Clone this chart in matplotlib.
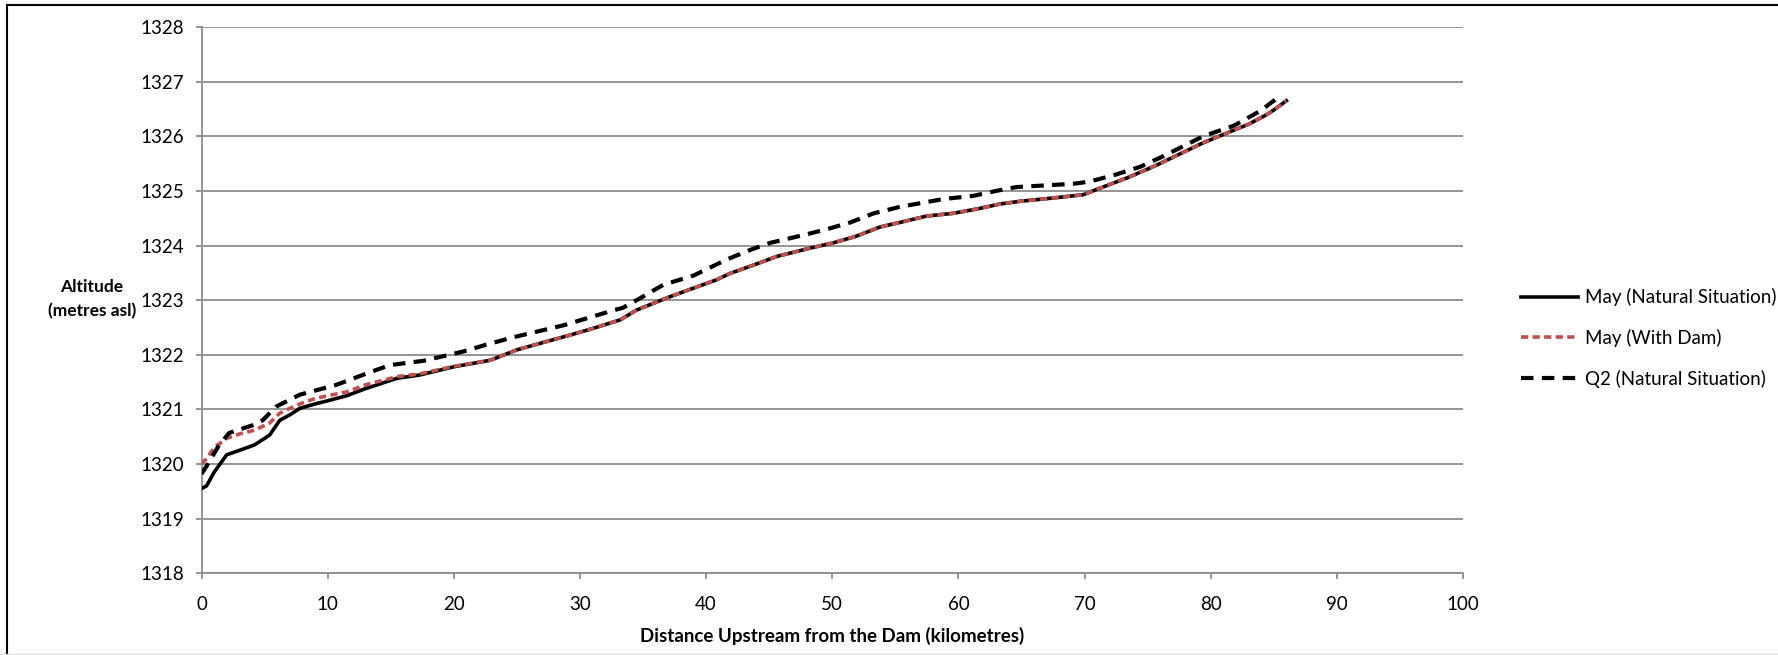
import matplotlib
matplotlib.use("Agg")
import matplotlib.pyplot as plt
from matplotlib.lines import Line2D

plt.rcParams['font.family'] = ['Lato', 'DejaVu Sans']

# Water surface profiles upstream of the dam
km_may = [0, 0.4, 1.0, 2.0, 3.0, 4.2, 5.4, 6.2, 7.0, 7.8, 9.0, 10.2, 11.5, 13.0,
          15.5, 17.3, 20.0, 22.9, 25.0, 27.0, 29.2, 31.0, 33.2, 34.5, 37.1, 39.0,
          40.8, 41.9, 43.5, 45.6, 48.2, 50.1, 51.9, 53.8, 55.5, 57.5, 59.6, 61.5,
          63.3, 64.9, 67.5, 69.9, 71.0, 73.5, 75.7, 77.5, 79.4, 81.5, 83.0, 84.4,
          85.0, 86.0]
alt_may_natural = [1319.55, 1319.60, 1319.85, 1320.17, 1320.25, 1320.35, 1320.53,
                   1320.80, 1320.90, 1321.02, 1321.10, 1321.17, 1321.25, 1321.38,
                   1321.57, 1321.63, 1321.78, 1321.90, 1322.09, 1322.22, 1322.36,
                   1322.48, 1322.64, 1322.82, 1323.06, 1323.22, 1323.37, 1323.49,
                   1323.62, 1323.80, 1323.95, 1324.05, 1324.17, 1324.34, 1324.43,
                   1324.54, 1324.59, 1324.67, 1324.76, 1324.81, 1324.87, 1324.93,
                   1325.03, 1325.25, 1325.47, 1325.67, 1325.88, 1326.08, 1326.22,
                   1326.39, 1326.48, 1326.65]
alt_may_dam = [1320.00, 1320.10, 1320.30, 1320.47, 1320.55, 1320.62, 1320.75,
               1320.93, 1321.02, 1321.10, 1321.20, 1321.26, 1321.32, 1321.45,
               1321.60, 1321.65, 1321.79, 1321.90, 1322.09, 1322.22, 1322.36,
               1322.48, 1322.64, 1322.82, 1323.06, 1323.22, 1323.37, 1323.49,
               1323.62, 1323.80, 1323.95, 1324.05, 1324.17, 1324.34, 1324.43,
               1324.54, 1324.59, 1324.67, 1324.76, 1324.81, 1324.87, 1324.93,
               1325.03, 1325.25, 1325.47, 1325.67, 1325.88, 1326.08, 1326.22,
               1326.39, 1326.48, 1326.65]

km_q2 = [0, 0.37, 1.4, 2.2, 4.05, 4.85, 5.9, 7.8, 10.7, 13.0, 14.9, 17.6, 20.75,
         22.5, 24.7, 28.7, 32.6, 33.4, 34.5, 36.6, 39.0, 41.6, 43.5, 45.1, 47.7,
         49.6, 51.4, 53.3, 55.4, 58.8, 61.2, 63.0, 64.6, 69.1, 70.4, 72.5, 74.4,
         76.2, 79.4, 81.8, 83.9, 85.4]
alt_q2 = [1319.82, 1319.95, 1320.35, 1320.57, 1320.71, 1320.80, 1321.05, 1321.27,
          1321.45, 1321.65, 1321.81, 1321.89, 1322.06, 1322.18, 1322.32, 1322.54,
          1322.81, 1322.86, 1323.00, 1323.28, 1323.45, 1323.74, 1323.92, 1324.05,
          1324.19, 1324.30, 1324.42, 1324.59, 1324.71, 1324.85, 1324.91, 1325.00,
          1325.07, 1325.13, 1325.17, 1325.30, 1325.44, 1325.63, 1326.00, 1326.19,
          1326.46, 1326.72]

labels = ["May (Natural Situation)", "May (With Dam)", "Q2 (Natural Situation)"]
x_ticks = list(range(0, 101, 10))
y_ticks = list(range(1318, 1329))

W, H = 1778, 655
fig = plt.figure(figsize=(W / 100, H / 100), dpi=100)
ax = fig.add_axes([201.5 / W, 1 - 573.3 / H, (1463 - 201.5) / W, (573.3 - 27) / H])

grid_c = '#8c8c8c'
ax.set_xlim(0, 100)
ax.set_ylim(1318, 1328)
ax.set_xticks(x_ticks)
ax.set_yticks(y_ticks)
ax.yaxis.grid(True, color=grid_c, linewidth=1.3)
ax.set_axisbelow(True)
for s in ('top', 'right'):
    ax.spines[s].set_visible(False)
for s in ('left', 'bottom'):
    ax.spines[s].set_color(grid_c)
    ax.spines[s].set_linewidth(1.3)
ax.tick_params(axis='both', colors=grid_c, labelcolor='black', labelsize=13.5,
               length=4.5, width=1.3)
ax.tick_params(axis='y', pad=8)
ax.tick_params(axis='x', pad=12)

l1, = ax.plot(km_may, alt_may_natural, color='black', linewidth=2.6,
              solid_joinstyle='round', zorder=3)
l2, = ax.plot(km_may, alt_may_dam, color='#C0504D', linewidth=2.6,
              dashes=(2.0, 1.2), zorder=4)
l3, = ax.plot(km_q2, alt_q2, color='black', linewidth=3.0,
              dashes=(3.0, 2.0), zorder=5)

fig.legend([l1, l2, l3], labels, loc='center left',
           bbox_to_anchor=(1512 / W, 1 - 338 / H), frameon=False, fontsize=13.5,
           handlelength=3.0, handletextpad=0.37, labelspacing=1.2, borderpad=0)

fig.text(92 / W, 1 - 299 / H, "Altitude\n(metres asl)", ha='center', va='center',
         fontsize=12.5, fontweight='bold', linespacing=1.55)
fig.text(832 / W, 1 - 636 / H, "Distance Upstream from the Dam (kilometres)",
         ha='center', va='center', fontsize=13.5, fontweight='bold')

# chart border
fig.add_artist(Line2D([7 / W, 7 / W], [0, 1 - 5 / H], color='black', linewidth=1.5))
fig.add_artist(Line2D([7 / W, 1], [1 - 5 / H, 1 - 5 / H], color='black', linewidth=1.5))
fig.add_artist(Line2D([0, 1], [1 / H, 1 / H], color='#e0e0e0', linewidth=1.0))

fig.savefig("out.png", dpi=100, facecolor='white')
